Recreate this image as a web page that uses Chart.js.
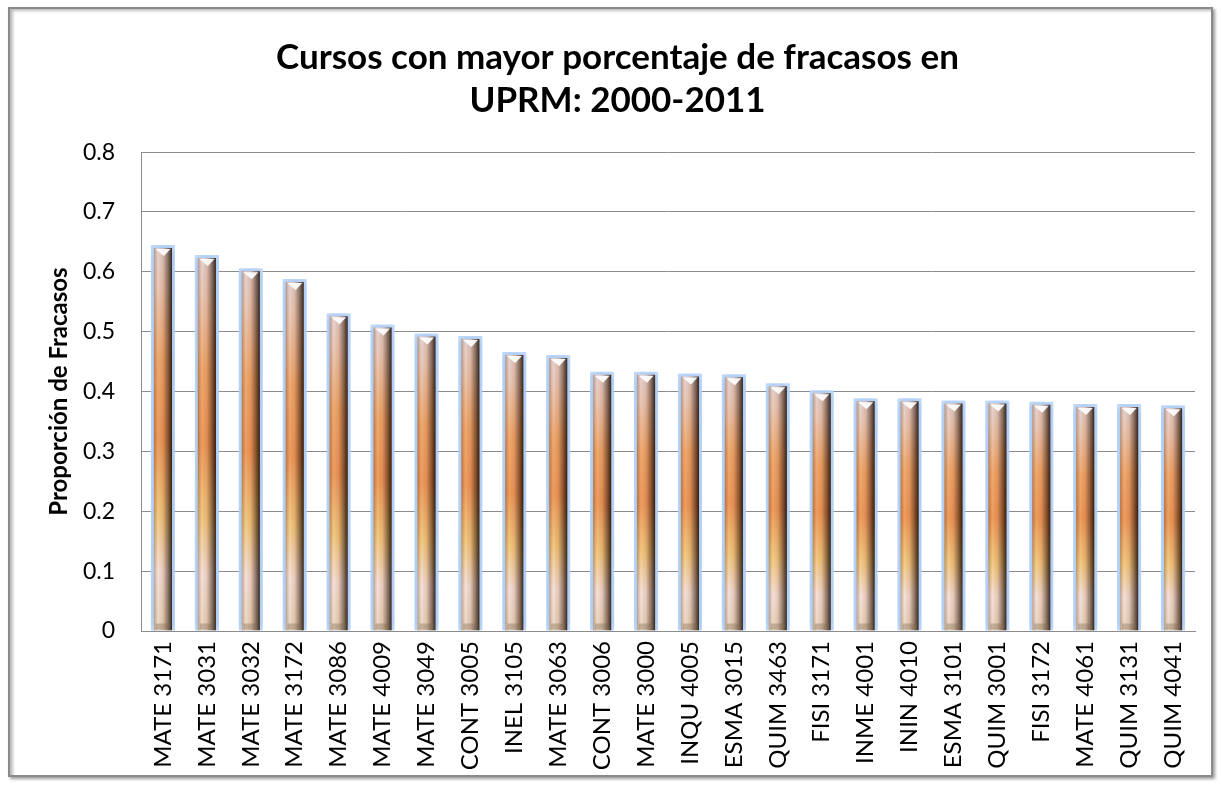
<!DOCTYPE html>
<html>
<head>
<meta charset="utf-8">
<script src="https://cdn.jsdelivr.net/npm/chart.js@4/dist/chart.umd.min.js"></script>
<style>
  body { margin: 0; background: #fff; }
  #wrap { position: absolute; left: 0; top: 0; width: 1221px; height: 786px; }
  #frame {
    position: absolute; left: 8px; top: 7px; width: 1201px; height: 766px;
    border: 2px solid #8a8a8a; box-shadow: 2px 2px 3px #9a9a9a, inset 3px 2px 3px #bdbdbd;
    pointer-events: none;
  }
</style>
</head>
<body>
<div id="wrap"><canvas id="chart"></canvas></div>
<div id="frame"></div>
<script>
const cursos = [
  'MATE 3171', 'MATE 3031', 'MATE 3032', 'MATE 3172', 'MATE 3086', 'MATE 4009',
  'MATE 3049', 'CONT 3005', 'INEL 3105', 'MATE 3063', 'CONT 3006', 'MATE 3000',
  'INQU 4005', 'ESMA 3015', 'QUIM 3463', 'FISI 3171', 'INME 4001', 'ININ 4010',
  'ESMA 3101', 'QUIM 3001', 'FISI 3172', 'MATE 4061', 'QUIM 3131', 'QUIM 4041'
];
const fracasos = [
  0.645, 0.628, 0.606, 0.588, 0.531, 0.512,
  0.497, 0.493, 0.466, 0.461, 0.433, 0.433,
  0.430, 0.429, 0.414, 0.402, 0.389, 0.389,
  0.385, 0.385, 0.383, 0.379, 0.379, 0.377
];
const yTicks = [0, 0.1, 0.2, 0.3, 0.4, 0.5, 0.6, 0.7, 0.8];
const tituloLineas = ['Cursos con mayor porcentaje de fracasos en', 'UPRM: 2000-2011'];
const tituloEjeY = 'Proporción de Fracasos';

const gridGray = '#8c8c8c';
const glowW = 3;

// cylinder shading across the bar width
const cylinderFill = (ctx) => {
  const chart = ctx.chart;
  const xScale = chart.scales.x;
  if (!xScale || ctx.dataIndex === undefined) return '#d8b090';
  const cx = xScale.getPixelForValue(ctx.dataIndex);
  if (!Number.isFinite(cx)) return '#d8b090';
  const half = 9;
  const g = chart.ctx.createLinearGradient(cx - half, 0, cx + half, 0);
  g.addColorStop(0, '#c4b2a2');
  g.addColorStop(0.22, '#fbf3e6');
  g.addColorStop(0.5, '#ead8c6');
  g.addColorStop(0.78, '#93806f');
  g.addColorStop(1, '#3a2f28');
  return g;
};

const glowAndTint = {
  id: 'glowAndTint',
  beforeDatasetDraw(chart) {
    const c = chart.ctx;
    c.save();
    c.shadowColor = 'rgba(140,185,242,0.95)';
    c.shadowBlur = 10;
  },
  afterDatasetDraw(chart) {
    chart.ctx.restore();
  },
  afterDatasetsDraw(chart) {
    const c = chart.ctx;
    const meta = chart.getDatasetMeta(0);
    meta.data.forEach((bar) => {
      const { x, y, base, width } = bar.getProps(['x', 'y', 'base', 'width'], true);
      if (![x, y, base, width].every(Number.isFinite)) return;
      const w = width - 2 * glowW;
      const l = x - w / 2;
      const t = y + glowW;
      c.save();
      c.globalCompositeOperation = 'multiply';
      const g = c.createLinearGradient(0, t, 0, base);
      g.addColorStop(0, '#eadde6');
      g.addColorStop(0.1, '#efd4cc');
      g.addColorStop(0.3, '#f4b27a');
      g.addColorStop(0.5, '#f2a468');
      g.addColorStop(0.7, '#f7d592');
      g.addColorStop(0.85, '#f9ecf0');
      g.addColorStop(1, '#eee2d6');
      c.fillStyle = g;
      c.fillRect(l, t, w, base - t);
      c.restore();
      // bevelled tip at the top
      c.save();
      c.fillStyle = 'rgba(255,255,255,0.92)';
      c.beginPath();
      c.moveTo(l + 1.5, t + 1);
      c.lineTo(l + w - 1.5, t + 1);
      c.lineTo(x + 1, t + 8);
      c.closePath();
      c.fill();
      // small base block
      c.fillStyle = 'rgba(120,100,80,0.35)';
      c.fillRect(l + 2, base - 7, w - 4, 6);
      c.restore();
    });
  }
};

new Chart(document.getElementById('chart'), {
  type: 'bar',
  data: {
    labels: cursos,
    datasets: [{
      label: 'Proporción de Fracasos',
      data: fracasos,
      backgroundColor: cylinderFill,
      borderColor: 'rgba(196,218,247,0.9)',
      borderWidth: glowW,
      borderSkipped: 'bottom',
      barPercentage: 0.55,
      categoryPercentage: 1.0
    }]
  },
  plugins: [glowAndTint],
  options: {
    responsive: true,
    maintainAspectRatio: false,
    animation: false,
    layout: { padding: { top: 10, left: 40, right: 26, bottom: 0 } },
    plugins: {
      legend: { display: false },
      tooltip: { enabled: false },
      title: {
        display: true,
        text: tituloLineas,
        color: '#000',
        font: { family: 'Lato', size: 35, weight: 'bold', lineHeight: 1.23 },
        padding: { top: 26, bottom: 30 }
      }
    },
    scales: {
      x: {
        grid: { display: false, drawTicks: false },
        border: { display: true, color: gridGray, width: 1 },
        ticks: {
          color: '#000',
          font: { family: 'Lato', size: 24 },
          minRotation: 90,
          maxRotation: 90,
          padding: 10,
          autoSkip: false
        },
        afterFit: (s) => { s.height = 155; }
      },
      y: {
        min: 0,
        max: 0.8,
        afterBuildTicks: (s) => { s.ticks = yTicks.map((v) => ({ value: v })); },
        grid: { color: gridGray, lineWidth: 1, drawTicks: false },
        border: { display: true, color: gridGray, width: 1 },
        ticks: {
          color: '#000',
          font: { family: 'Lato', size: 23 },
          padding: 26,
          callback: (v) => String(v)
        },
        title: {
          display: true,
          text: tituloEjeY,
          color: '#000',
          font: { family: 'Lato', size: 24, weight: 'bold' },
          padding: { top: 5, bottom: 0 }
        },
        afterFit: (s) => { s.width = 101; }
      }
    }
  }
});
</script>
</body>
</html>
